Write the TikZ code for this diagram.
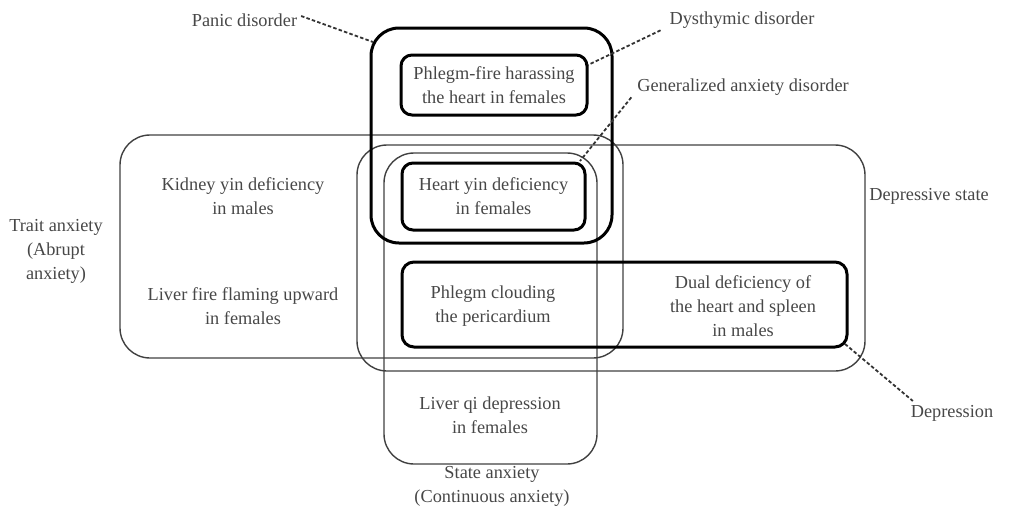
\documentclass[tikz,border=0pt]{standalone}
\usepackage{fontspec}
\setmainfont{Liberation Serif}
\begin{document}
\begin{tikzpicture}[x=1pt,y=-1pt,
  every node/.style={inner sep=0pt, outer sep=0pt},
  txt/.style={font=\fontsize{18.3}{24}\selectfont, text=black!72, align=center},
  thinbox/.style={draw=black!75, line width=1.4pt, rounded corners=30pt, rectangle},
  thickbox/.style={draw=black, line width=3pt, rounded corners=#1, rectangle},
  thickbox/.default=11pt,
  dashline/.style={draw=black!80, line width=1.8pt, dash pattern=on 3.5pt off 2.2pt}
]
\useasboundingbox (0,0) rectangle (1014,514);
% thin regions
\node[thinbox, minimum width=503pt, minimum height=223pt] (trait) at (371.5,246.5) {};
\node[thinbox, minimum width=508pt, minimum height=226pt] (depstate) at (611,258) {};
\node[thinbox, minimum width=213pt, minimum height=311pt] (state) at (490.5,308.5) {};
% thick regions
\node[thickbox=28pt, minimum width=241pt, minimum height=215pt] (panic) at (491.5,135.5) {};
\node[thickbox, minimum width=186pt, minimum height=60pt] (pfire) at (494,85) {};
\node[thickbox, minimum width=183pt, minimum height=67pt] (hyin) at (493.5,196.5) {};
\node[thickbox=12pt, minimum width=445pt, minimum height=85pt] (phlegm) at (624.5,304.5) {};
% texts inside
\node[txt] (tpfire) at (pfire) {Phlegm-fire harassing\\the heart in females};
\node[txt] (thyin) at (hyin) {Heart yin deficiency\\in females};
\node[txt] (tkid) at (243,196) {Kidney yin deficiency\\in males};
\node[txt] (tliv) at (243,306) {Liver fire flaming upward\\in females};
\node[txt] (tphl) at (493,306) {Phlegm clouding\\the pericardium};
\node[txt] (tdual) at (743,306) {Dual deficiency of\\the heart and spleen\\in males};
\node[txt] (tqi) at (490,415) {Liver qi depression\\in females};
% outside labels
\node[txt] (lpanic) at (244.5,20) {Panic disorder};
\node[txt] (ldys) at (742,20) {Dysthymic disorder};
\node[txt] (lgad) at (743,87) {Generalized anxiety disorder};
\node[txt] (ldepst) at (929,196) {Depressive state};
\node[txt] (ltrait) at (56,251) {Trait anxiety\\(Abrupt\\anxiety)};
\node[txt] (ldep) at (952,413) {Depression};
\node[txt] (lstate) at (492,486) {State anxiety\\(Continuous anxiety)};
% connector end points
\coordinate (panicpt) at (373,42);
\coordinate (pfirept) at (588,65);
\coordinate (hyinpt) at (580,161);
\coordinate (phlegmpt) at (845,344);
\draw[dashline] ([xshift=4pt,yshift=4pt]lpanic.east) -- (panicpt);
\draw[dashline] ([xshift=-9pt,yshift=-2pt]ldys.south west) -- (pfirept);
\draw[dashline] ([xshift=-6pt,yshift=-2pt]lgad.south west) -- (hyinpt);
\draw[dashline] (phlegmpt) -- ([xshift=2pt,yshift=4pt]ldep.north west);
\end{tikzpicture}
\end{document}
